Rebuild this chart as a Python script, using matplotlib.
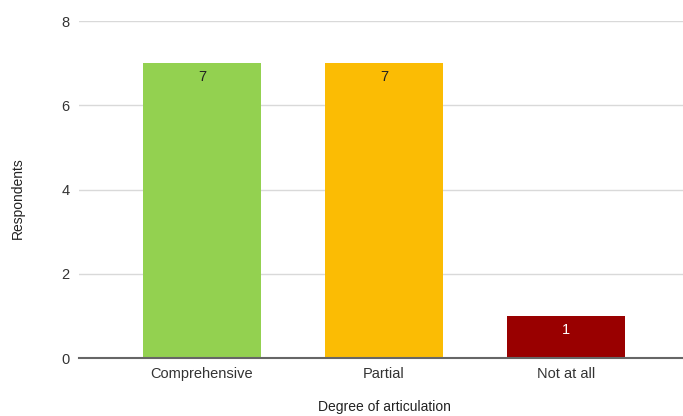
import matplotlib
matplotlib.use("Agg")
import matplotlib.pyplot as plt

categories = ["Comprehensive", "Partial", "Not at all"]
respondents = [7, 7, 1]
bar_colors = ["#93d150", "#fbbc04", "#990000"]
label_colors = ["#222222", "#222222", "#ffffff"]
y_ticks = [0, 2, 4, 6, 8]

plt.rcParams["font.family"] = ["Liberation Sans", "DejaVu Sans"]

W, H = 683, 416
fig = plt.figure(figsize=(W / 100, H / 100), dpi=100)
ax = fig.add_axes([0.1157, 0.139, 0.8843, 0.8105])

x = list(range(len(categories)))
bars = ax.bar(x, respondents, width=0.65, color=bar_colors, zorder=3)

for rect, val, lc in zip(bars, respondents, label_colors):
    ax.annotate(str(val), (rect.get_x() + rect.get_width() / 2, rect.get_height()),
                xytext=(0, -5), textcoords="offset points",
                ha="center", va="top", fontsize=10.5, color=lc, zorder=4)

ax.set_xlim(-0.676, 2.643)
ax.set_ylim(0, 8)
ax.set_yticks(y_ticks)
ax.set_xticks(x)
ax.set_xticklabels(categories)

ax.grid(axis="y", color="#d9d9d9", linewidth=1, zorder=0)
ax.set_axisbelow(True)
for side in ["top", "right", "left"]:
    ax.spines[side].set_visible(False)
ax.spines["bottom"].set_color("#666666")
ax.spines["bottom"].set_linewidth(1.5)
ax.spines["bottom"].set_zorder(5)

ax.tick_params(axis="both", length=0, labelsize=10.5, labelcolor="#333333")
ax.tick_params(axis="y", pad=7)
ax.tick_params(axis="x", pad=6)

# axis titles placed in figure pixels
fig.text(18 / W, 1 - 198 / H, "Respondents", rotation=90, ha="center", va="center",
         fontsize=10, color="#222222")
fig.text(384 / W, 1 - 407 / H, "Degree of articulation", ha="center", va="center",
         fontsize=10, color="#222222")

fig.savefig("out.png", dpi=100)
